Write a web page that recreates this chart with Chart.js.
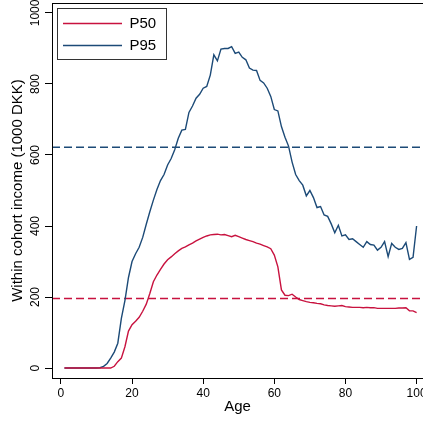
<!DOCTYPE html>
<html>
<head>
<meta charset="utf-8">
<script src="https://cdn.jsdelivr.net/npm/chart.js@4.4.1/dist/chart.umd.min.js"></script>
<style>
  html, body { margin: 0; padding: 0; background: #fff; overflow: hidden; }
</style>
</head>
<body>
<canvas id="chart" width="423" height="421"></canvas>
<script>
// ages on the x axis
const ages = [1,2,3,4,5,6,7,8,9,10,11,12,13,14,15,16,17,18,19,20,
  21,22,23,24,25,26,27,28,29,30,31,32,33,34,35,36,37,38,39,40,
  41,42,43,44,45,46,47,48,49,50,51,52,53,54,55,56,57,58,59,60,
  61,62,63,64,65,66,67,68,69,70,71,72,73,74,75,76,77,78,79,80,
  81,82,83,84,85,86,87,88,89,90,91,92,93,94,95,96,97,98,99,100];

// within cohort income, 1000 DKK
const p50 = [0,0,0,0,0,0,0,0,0,0,0,0,0,0,5,18,28,60,104,122,
  132,143,160,180,210,243,262,278,293,305,313,322,330,337,341,347,352,358,363,368,
  372,375,376,377,375,376,373,370,374,370,366,362,359,356,352,349,345,341,336,318,
  285,220,205,204,208,200,193,190,187,185,184,182,181,178,176,175,174,175,176,173,
  172,171,171,171,170,171,170,170,168,168,168,168,168,168,169,169,170,161,161,156];

const p95 = [0,0,0,0,0,0,0,0,0,0,1,5,13,28,45,70,140,190,255,300,
  322,340,368,405,440,473,503,528,545,572,590,615,647,670,672,720,738,760,771,788,
  793,825,882,865,898,900,900,905,886,890,875,868,845,839,838,810,803,788,765,728,
  724,680,650,625,580,545,528,515,485,500,480,452,455,431,427,406,381,402,372,375,
  362,364,356,348,340,356,348,346,332,340,356,314,351,340,334,337,353,306,312,400];

// reference levels (dashed)
const refP50 = 196;
const refP95 = 622;

const xTicks = [0, 20, 40, 60, 80, 100];
const yTicks = [0, 200, 400, 600, 800, 1000];

const xMin = -2.5, xMax = 101.8;
const yMin = -28, yMax = 1028;

const red = '#c8123f';
const blue = '#1c4a77';
const font = 'Liberation Sans, Arial, Helvetica, sans-serif';

const toPoints = vals => vals.map((v, i) => ({ x: ages[i], y: v }));

// frame around plot region + legend box border
const framePlugin = {
  id: 'frame',
  afterLayout(chart) {
    chart.legend.left += 4;
    chart.legend.top += 9;
  },
  afterDraw(chart) {
    const { ctx, chartArea: a, legend } = chart;
    ctx.save();
    ctx.strokeStyle = '#000';
    ctx.lineWidth = 1;
    ctx.strokeRect(a.left + 0.5, a.top + 0.5, a.right - a.left, a.bottom - a.top);
    ctx.strokeStyle = '#333';
    ctx.strokeRect(legend.left + 1.5, legend.top - 0.5, 109, 51);
    ctx.restore();
  }
};

new Chart(document.getElementById('chart'), {
  type: 'line',
  data: {
    datasets: [
      { label: 'P50', data: toPoints(p50), borderColor: red, borderWidth: 1.4 },
      { label: 'P95', data: toPoints(p95), borderColor: blue, borderWidth: 1.4 },
      { label: 'ref95', data: [{ x: xMin, y: refP95 }, { x: xMax, y: refP95 }],
        borderColor: blue, borderWidth: 1.4, borderDash: [8, 4] },
      { label: 'ref50', data: [{ x: xMin, y: refP50 }, { x: xMax, y: refP50 }],
        borderColor: red, borderWidth: 1.4, borderDash: [8, 4] }
    ]
  },
  options: {
    responsive: false,
    animation: false,
    devicePixelRatio: 1,
    elements: { point: { radius: 0 }, line: { tension: 0, fill: false } },
    layout: { padding: { top: 3, left: 0, right: 0, bottom: 0 } },
    plugins: {
      tooltip: { enabled: false },
      legend: {
        position: 'chartArea',
        align: 'start',
        labels: {
          usePointStyle: true,
          pointStyle: 'line',
          pointStyleWidth: 59,
          padding: 7,
          color: '#000',
          font: { family: font, size: 15 },
          filter: item => item.datasetIndex < 2
        }
      }
    },
    scales: {
      x: {
        type: 'linear',
        min: xMin,
        max: xMax,
        afterBuildTicks: s => { s.ticks = xTicks.map(v => ({ value: v })); },
        afterFit: s => { s.height = 43; s.paddingLeft = 0; s.paddingRight = 0; },
        ticks: { color: '#000', font: { family: font, size: 12 }, padding: 2, maxRotation: 0, minRotation: 0,
          callback: v => String(v) },
        grid: { drawOnChartArea: false, tickLength: 6, color: '#000', lineWidth: 1 },
        border: { color: '#000', width: 1 },
        title: { display: true, text: 'Age', color: '#000', font: { family: font, size: 15 }, padding: { top: 0, bottom: 5 } }
      },
      y: {
        type: 'linear',
        min: yMin,
        max: yMax,
        afterBuildTicks: s => { s.ticks = yTicks.map(v => ({ value: v })); },
        afterFit: s => { s.width = 52; s.paddingTop = 0; s.paddingBottom = 0; },
        ticks: { color: '#000', font: { family: font, size: 12 }, minRotation: 90, maxRotation: 90, crossAlign: 'center', padding: -4,
          callback: v => String(v) },
        grid: { drawOnChartArea: false, tickLength: 7, color: '#000', lineWidth: 1 },
        border: { color: '#000', width: 1 },
        title: { display: true, text: 'Within cohort income (1000 DKK)', color: '#000', font: { family: font, size: 15 }, padding: { top: 9, bottom: 0 } }
      }
    }
  },
  plugins: [framePlugin]
});
</script>
</body>
</html>
